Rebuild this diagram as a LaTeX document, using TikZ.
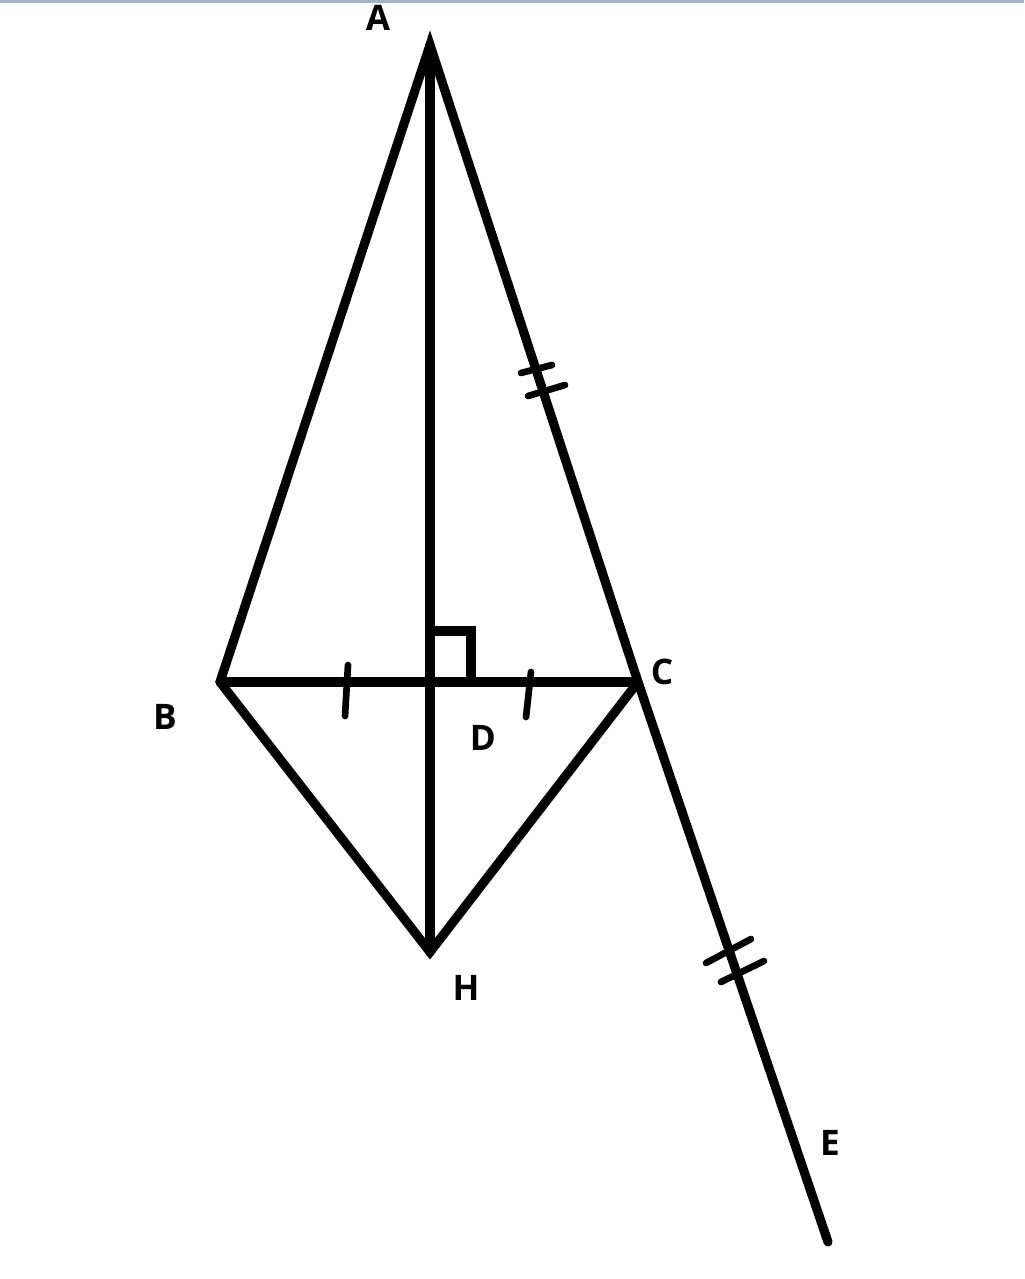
\documentclass[tikz,border=0pt]{standalone}
\usepackage{fontspec}
\setmainfont{Open Sans}
\usepackage{tikz}

\definecolor{frameline}{RGB}{165,178,198}

\tikzset{
  edge/.style={line width=2.6pt, line cap=round, line join=miter},
  tick/.style={line width=1.9pt, line cap=round},
  lbl/.style={font=\fontsize{10}{12}\selectfont\bfseries, inner sep=0pt}
}

\begin{document}
\begin{tikzpicture}[x=0.01cm, y=-0.01cm]
    \useasboundingbox (0,0) rectangle (1024,1279);
    \fill[frameline] (0,0) rectangle (1024,3);

    \coordinate (A) at (430, 45);
    \coordinate (B) at (220, 682);
    \coordinate (C) at (638, 682);
    \coordinate (D) at (430, 682);
    \coordinate (H) at (430, 952);
    \coordinate (E) at (828, 1242);

    \node[lbl] at (378, 18)  (l A) {A};
    \node[lbl] at (165, 717) (l B) {B};
    \node[lbl] at (662, 672) (l C) {C};
    \node[lbl] at (483, 738) (l D) {D};
    \node[lbl] at (466, 988) (l H) {H};
    \node[lbl] at (830, 1143) (l E) {E};

    \draw[edge] (B) -- (A) -- (C) -- (E);
    \draw[edge] (A) -- (H);
    \draw[edge] (B) -- (C);
    \draw[edge] (B) -- (H) -- (C);

    % right angle at D
    \draw[edge, line cap=butt] (D) ++(0,-51) -- ++(41,0) -- ++(0,51);

    % equal marks
    \draw[tick] (348, 665) -- (345, 716);
    \draw[tick] (531, 672) -- (526, 717);
    \draw[tick] (521, 373) -- (552, 365);
    \draw[tick] (528, 396) -- (565, 385);
    \draw[tick] (706, 963) -- (751, 939);
    \draw[tick] (721, 982) -- (764, 961);
\end{tikzpicture}
\end{document}
